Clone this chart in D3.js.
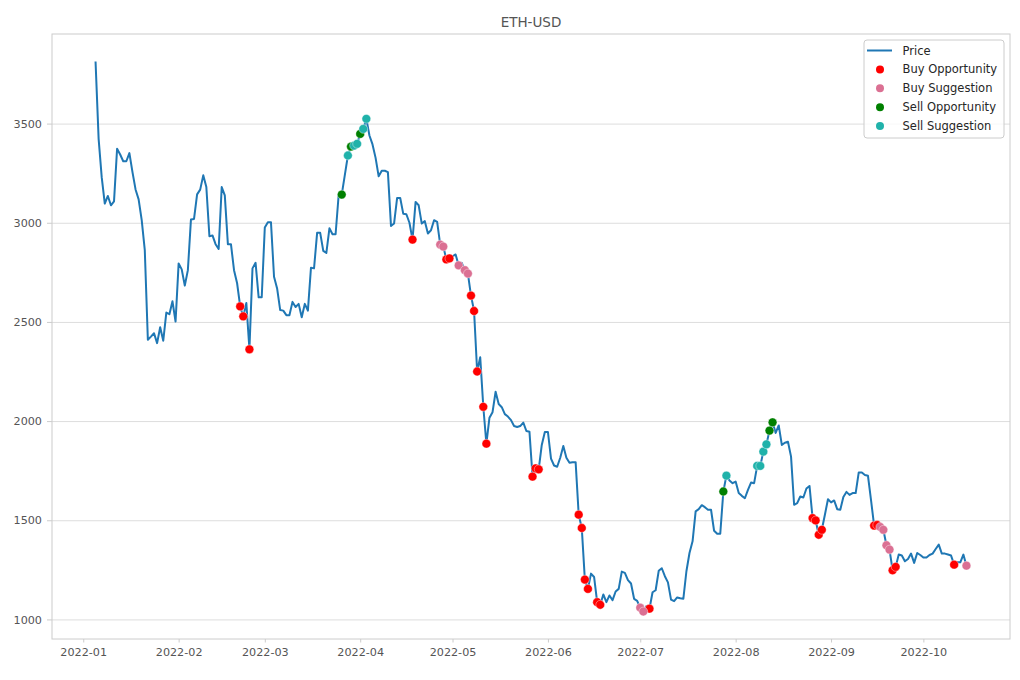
<!DOCTYPE html>
<html>
<head>
<meta charset="utf-8">
<script src="https://cdnjs.cloudflare.com/ajax/libs/d3/7.8.5/d3.min.js"></script>
<style>
  body { margin: 0; background: #fff; }
  text { font-family: 'DejaVu Sans', sans-serif; }
</style>
</head>
<body>
<svg id="chart" width="1020" height="680"></svg>
<script>
const title = 'ETH-USD'
const startDate = '2022-01-05'
// daily closes
const prices = [
  3813, 3423, 3230, 3097, 3135, 3088, 3108, 3373, 3344, 3310, 3310, 3351, 3255, 3168, 3118, 3013,
  2862, 2410, 2426, 2443, 2393, 2473, 2405, 2547, 2539, 2604, 2502, 2795, 2765, 2683, 2761, 3016,
  3019, 3143, 3167, 3239, 3180, 2932, 2936, 2892, 2868, 3180, 3138, 2892, 2892, 2761, 2695, 2578,
  2528, 2595, 2362, 2770, 2798, 2624, 2624, 2976, 3003, 3003, 2728, 2669, 2560, 2557, 2534, 2534,
  2601, 2575, 2591, 2524, 2591, 2557, 2773, 2770, 2949, 2949, 2858, 2848, 2972, 2942, 2942, 3140,
  3142, 3240, 3339, 3384, 3389, 3398, 3448, 3473, 3524, 3440, 3395, 3327, 3234, 3262, 3262, 3255,
  2984, 2996, 3125, 3125, 3045, 3043, 3000, 2915, 3105, 3088, 2996, 3008, 2946, 2962, 3013, 3004,
  2890, 2880, 2815, 2820, 2831, 2840, 2785, 2798, 2761, 2744, 2633, 2555, 2250, 2322, 2072, 1886,
  2017, 2045, 2148, 2086, 2070, 2035, 2023, 2005, 1975, 1970, 1975, 1992, 1950, 1946, 1720, 1762,
  1757, 1880, 1945, 1945, 1811, 1776, 1770, 1815, 1874, 1815, 1790, 1793, 1793, 1528, 1461, 1201,
  1154, 1231, 1214, 1087, 1074, 1126, 1087, 1121, 1097, 1141, 1154, 1241, 1235, 1198, 1181, 1104,
  1094, 1059, 1040, 1067, 1054, 1137, 1147, 1245, 1258, 1218, 1187, 1100, 1092, 1111, 1107, 1104,
  1243, 1335, 1394, 1545, 1556, 1576, 1566, 1553, 1553, 1447, 1432, 1432, 1645, 1725, 1700, 1687,
  1695, 1637, 1623, 1611, 1653, 1690, 1687, 1774, 1774, 1846, 1883, 1952, 1994, 1940, 1978, 1880,
  1891, 1896, 1821, 1578, 1586, 1620, 1615, 1660, 1673, 1511, 1499, 1427, 1452, 1528, 1606, 1590,
  1600, 1556, 1553, 1617, 1643, 1628, 1637, 1637, 1741, 1741, 1728, 1724, 1600, 1473, 1476, 1466,
  1452, 1374, 1352, 1248, 1265, 1327, 1322, 1293, 1305, 1332, 1285, 1335, 1325, 1312, 1312, 1325,
  1332, 1355, 1377, 1332, 1332, 1327, 1322, 1276, 1288, 1288, 1327, 1271
]
const buyOpportunity = [
  '2022-02-21', '2022-02-22', '2022-02-24', '2022-04-18', '2022-04-29', '2022-04-30',
  '2022-05-07', '2022-05-08', '2022-05-09', '2022-05-11', '2022-05-12', '2022-05-27',
  '2022-05-28', '2022-05-29', '2022-06-11', '2022-06-12', '2022-06-13', '2022-06-14',
  '2022-06-17', '2022-06-18', '2022-07-04', '2022-08-26', '2022-08-27', '2022-08-28',
  '2022-08-29', '2022-09-15', '2022-09-16', '2022-09-21', '2022-09-22', '2022-10-11'
]
const buySuggestion = [
  '2022-04-27', '2022-04-28', '2022-05-03', '2022-05-05', '2022-05-06', '2022-07-01',
  '2022-07-02', '2022-09-17', '2022-09-18', '2022-09-19', '2022-09-20', '2022-10-15'
]
const sellOpportunity = ['2022-03-26', '2022-03-29', '2022-04-01', '2022-07-28', '2022-08-12', '2022-08-13']
const sellSuggestion = [
  '2022-03-28', '2022-03-30', '2022-03-31', '2022-04-02', '2022-04-03',
  '2022-07-29', '2022-08-08', '2022-08-09', '2022-08-10', '2022-08-11'
]
const yTicks = [1000, 1500, 2000, 2500, 3000, 3500]
const xTicks = ['2022-01', '2022-02', '2022-03', '2022-04', '2022-05', '2022-06', '2022-07', '2022-08', '2022-09', '2022-10']

const signals = [
  { name: 'Buy Opportunity', color: '#ff0000', days: buyOpportunity },
  { name: 'Buy Suggestion', color: '#db7093', days: buySuggestion },
  { name: 'Sell Opportunity', color: '#008000', days: sellOpportunity },
  { name: 'Sell Suggestion', color: '#20b2aa', days: sellSuggestion }
]

const parseDay = d3.timeParse('%Y-%m-%d')
const parseMonth = d3.timeParse('%Y-%m')
const fmtDay = d3.timeFormat('%Y-%m-%d')
const start = parseDay(startDate)
const series = prices.map((v, i) => ({ date: d3.timeDay.offset(start, i), value: v }))
const byDay = new Map(series.map(d => [fmtDay(d.date), d.value]))

const svg = d3.select('#chart')
const margin = { left: 52, right: 10, top: 34, bottom: 41 }
const width = +svg.attr('width')
const height = +svg.attr('height')
const innerWidth = width - margin.left - margin.right
const innerHeight = height - margin.top - margin.bottom
const tickFont = 11.2

// matplotlib style 5% margins
const xExt = d3.extent(series, d => d.date)
const xPad = (xExt[1] - xExt[0]) * 0.05
const yExt = d3.extent(series, d => d.value)
const yPad = (yExt[1] - yExt[0]) * 0.05

const x = d3.scaleTime()
  .domain([new Date(+xExt[0] - xPad), new Date(+xExt[1] + xPad)])
  .range([0, innerWidth])
const y = d3.scaleLinear()
  .domain([yExt[0] - yPad, yExt[1] + yPad])
  .range([innerHeight, 0])

const g = svg.append('g')
  .attr('transform', `translate(${margin.left},${margin.top})`)

g.append('g')
  .attr('class', 'grid')
  .call(d3.axisLeft(y).tickValues(yTicks).tickSize(-innerWidth).tickFormat(''))
  .call(s => s.select('.domain').remove())
  .selectAll('line').attr('stroke', '#dddddd').attr('stroke-width', 1)

const yAxisG = g.append('g')
  .call(d3.axisLeft(y).tickValues(yTicks).tickFormat(d3.format('d')).tickSize(5).tickPadding(5))
const xAxisG = g.append('g')
  .attr('transform', `translate(0,${innerHeight})`)
  .call(d3.axisBottom(x).tickValues(xTicks.map(parseMonth)).tickFormat(d3.timeFormat('%Y-%m')).tickSize(3.5).tickPadding(5.5))

for (let ax of [xAxisG, yAxisG]) {
  ax.attr('font-size', tickFont).attr('font-family', 'DejaVu Sans, sans-serif')
  ax.select('.domain').remove()
  ax.selectAll('.tick line').attr('stroke', '#cccccc')
  ax.selectAll('.tick text').attr('fill', '#555555').attr('dy', null)
}
// baseline offsets instead of em shifts
xAxisG.selectAll('.tick text').attr('y', 9 + tickFont * 0.72)
yAxisG.selectAll('.tick text').attr('y', tickFont * 0.33)

g.append('rect')
  .attr('width', innerWidth)
  .attr('height', innerHeight)
  .attr('fill', 'none')
  .attr('stroke', '#cccccc')
  .attr('stroke-width', 1)

const line = d3.line()
  .x(d => x(d.date))
  .y(d => y(d.value))

g.append('path')
  .datum(series)
  .attr('d', line)
  .attr('fill', 'none')
  .attr('stroke', '#1f77b4')
  .attr('stroke-width', 2)
  .attr('stroke-linejoin', 'round')

for (let s of signals) {
  g.append('g').selectAll('circle')
    .data(s.days)
    .enter().append('circle')
    .attr('cx', d => x(parseDay(d)))
    .attr('cy', d => y(byDay.get(d)))
    .attr('r', 4.4)
    .attr('fill', s.color)
    .attr('stroke', '#ffffff')
    .attr('stroke-width', 0.4)
}

svg.append('text')
  .attr('x', margin.left + innerWidth / 2)
  .attr('y', 27)
  .attr('text-anchor', 'middle')
  .attr('fill', '#555555')
  .attr('font-size', 13.5)
  .text(title)

// legend
const legend = svg.append('g').attr('transform', 'translate(864,40)')
legend.append('rect')
  .attr('width', 140)
  .attr('height', 98)
  .attr('rx', 3)
  .attr('fill', '#ffffff')
  .attr('fill-opacity', 0.8)
  .attr('stroke', '#cccccc')
const items = [{ name: 'Price', color: '#1f77b4', type: 'line' }].concat(signals)
const row = legend.selectAll('.item').data(items)
  .enter().append('g')
  .attr('class', 'item')
  .attr('transform', (d, i) => `translate(0,${10.5 + i * 18.9})`)
row.filter(d => d.type === 'line').append('line')
  .attr('x1', 3).attr('x2', 28)
  .attr('stroke', d => d.color)
  .attr('stroke-width', 2)
row.filter(d => d.type !== 'line').append('circle')
  .attr('cx', 16)
  .attr('r', 4)
  .attr('fill', d => d.color)
row.append('text')
  .attr('x', 38.5)
  .attr('y', 4)
  .attr('fill', '#262626')
  .attr('font-size', 11.5)
  .text(d => d.name)
</script>
</body>
</html>
